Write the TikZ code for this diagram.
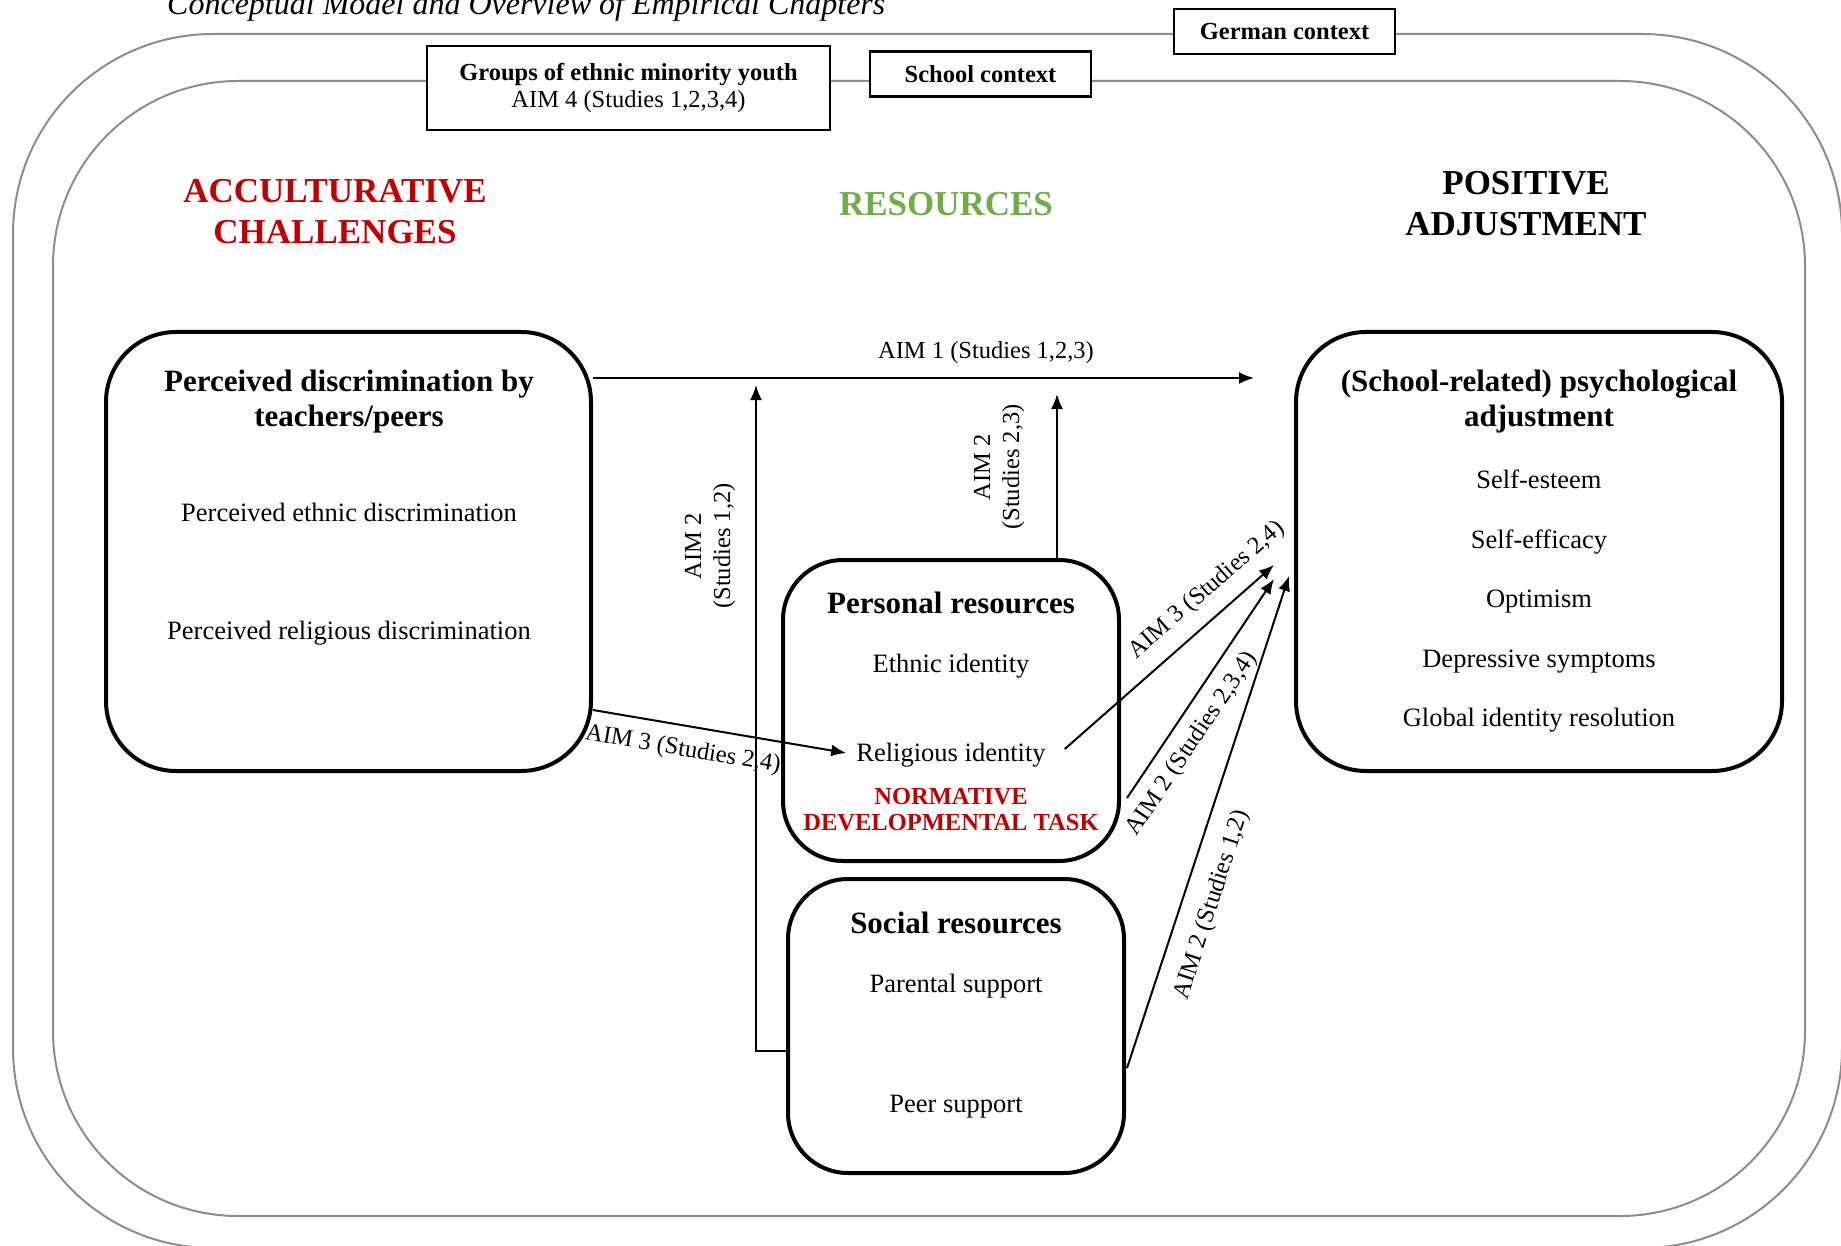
\documentclass[tikz,border=0pt]{standalone}
\usepackage{fontspec}
\setmainfont{Liberation Serif}
\usetikzlibrary{arrows.meta,calc}
\definecolor{accred}{HTML}{C00000}
\definecolor{resgreen}{HTML}{70AD47}
\definecolor{ctxgray}{HTML}{8C8C8C}
\newcommand\dgBody{\fontsize{26.5}{31}\selectfont}
\newcommand\dgTitle{\fontsize{31}{35}\selectfont\bfseries}
\newcommand\dgHead{\fontsize{35}{41}\selectfont\bfseries}
\newcommand\dgLab{\fontsize{24.5}{29}\selectfont}
\newcommand\dgCtx{\fontsize{24.5}{27.5}\selectfont}
\newcommand\dgTask{\fontsize{24.5}{26}\selectfont\bfseries}
\begin{document}
\begin{tikzpicture}[x=1pt,y=-1pt,
  ctxline/.style={draw=ctxgray, line width=2pt},
  ctxbox/.style={draw, fill=white, line width=2.5pt, inner sep=0pt, align=center, font=\dgCtx},
  bigbox/.style={draw, line width=4pt, inner sep=0pt},
  txt/.style={font=\dgBody, inner sep=0pt, align=center},
  ttl/.style={font=\dgTitle, inner sep=0pt, align=center},
  head/.style={font=\dgHead, inner sep=0pt, align=center},
  lbl/.style={font=\dgLab, inner sep=0pt, align=center},
  arr/.style={line width=2pt, -{Latex[length=15pt,width=12pt]}}]
\useasboundingbox (0,0) rectangle (1841,1246);

% title
\node[font=\fontsize{32}{36}\selectfont\itshape, inner sep=0pt, anchor=base west] (ttlmain) at (167,15) {Conceptual Model and Overview of Empirical Chapters};

% contexts
\draw[ctxline, rounded corners=200pt] (13,34) rectangle (1842,1248);
\draw[ctxline, rounded corners=185pt] (53,81) rectangle (1805,1216);
\node[ctxbox, minimum width=221pt, minimum height=45pt] (german) at (1284.5,31.5) {\textbf{German context}};
\node[ctxbox, minimum width=403pt, minimum height=84pt] (groups) at (628.5,88) {\textbf{Groups of ethnic minority youth}\\AIM 4 (Studies 1,2,3,4)};
\node[ctxbox, minimum width=221pt, minimum height=45pt] (school) at (980.5,74) {\textbf{School context}};

% headings
\node[head, text=accred] (hacc) at (335,212) {ACCULTURATIVE\\CHALLENGES};
\node[head, text=resgreen] (hres) at (946,204) {RESOURCES};
\node[head] (hpos) at (1526,204) {POSITIVE\\ADJUSTMENT};

% big boxes
\node[bigbox, rounded corners=70pt, minimum width=485pt, minimum height=439pt] (disc) at (348.5,551.5) {};
\node[bigbox, rounded corners=70pt, minimum width=486pt, minimum height=439pt] (adj) at (1539,551.5) {};
\node[bigbox, rounded corners=60pt, minimum width=336pt, minimum height=301pt] (pers) at (951,710.5) {};
\node[bigbox, rounded corners=60pt, minimum width=336pt, minimum height=294pt] (soc) at (956,1026) {};

% texts in discrimination box
\node[ttl] (discT) at (349,402) {Perceived discrimination by\\teachers/peers};
\node[txt] (ethdisc) at (349,512) {Perceived ethnic discrimination};
\node[txt] (reldisc) at (349,633) {Perceived religious discrimination};

% texts in adjustment box
\node[ttl] (adjT) at (1539,402) {(School-related) psychological\\adjustment};
\node[txt] (se) at (1539,479) {Self-esteem};
\node[txt] (sef) at (1539,542) {Self-efficacy};
\node[txt] (opt) at (1539,602) {Optimism};
\node[txt] (dep) at (1539,662) {Depressive symptoms};
\node[txt] (gir) at (1539,720) {Global identity resolution};

% personal resources
\node[ttl] (persT) at (951,603) {Personal resources};
\node[txt] (ethid) at (951,666) {Ethnic identity};
\node[txt, inner xsep=10pt] (relid) at (951,755) {Religious identity};
\node[font=\dgTask, text=accred, inner sep=0pt, align=center] (task) at (951,810) {NORMATIVE\\DEVELOPMENTAL TASK};

% social resources
\node[ttl] (socT) at (956,923) {Social resources};
\node[txt] (par) at (956,986) {Parental support};
\node[txt] (peer) at (956,1107) {Peer support};

% connectors
\coordinate (a1e) at (1254,378);
\draw[arr] (a1e -| disc.east) -- (a1e);
\node[lbl] (l1) at (986,353) {AIM 1 (Studies 1,2,3)};

\coordinate (a2b) at (756,1051);
\coordinate (a2t) at (756,385);
\draw[arr] (a2b -| soc.west) -- (a2b) -- (a2t);
\node[lbl, rotate=90] (l2) at (710,546) {AIM 2\\(Studies 1,2)};

\coordinate (a23t) at (1057,394);
\draw[arr] (a23t |- pers.north) -- (a23t);
\node[lbl, rotate=90] (l3) at (999,467) {AIM 2\\(Studies 2,3)};

\coordinate (a3s) at (591,710);
\draw[arr] (a3s -| disc.east) -- ([yshift=2pt]relid.west);
\node[lbl, rotate=-9.5] (l4) at (683,750) {AIM 3 (Studies 2,4)};

\coordinate (tip1) at (1274,565);
\draw[arr] ([xshift=9pt,yshift=6pt]relid.east) -- (tip1);
\node[lbl, rotate=41] (l5) at (1207,590) {AIM 3 (Studies 2,4)};

\coordinate (b1) at (1127,798);
\coordinate (tip2) at (1274,579);
\draw[arr] (b1) -- (tip2);
\node[lbl, rotate=56] (l6) at (1192,744) {AIM 2 (Studies 2,3,4)};

\coordinate (b2) at (1127,1068);
\coordinate (tip3) at (1289,576);
\draw[arr] (b2) -- (tip3);
\node[lbl, rotate=72] (l7) at (1212,905) {AIM 2 (Studies 1,2)};
\end{tikzpicture}
\end{document}
